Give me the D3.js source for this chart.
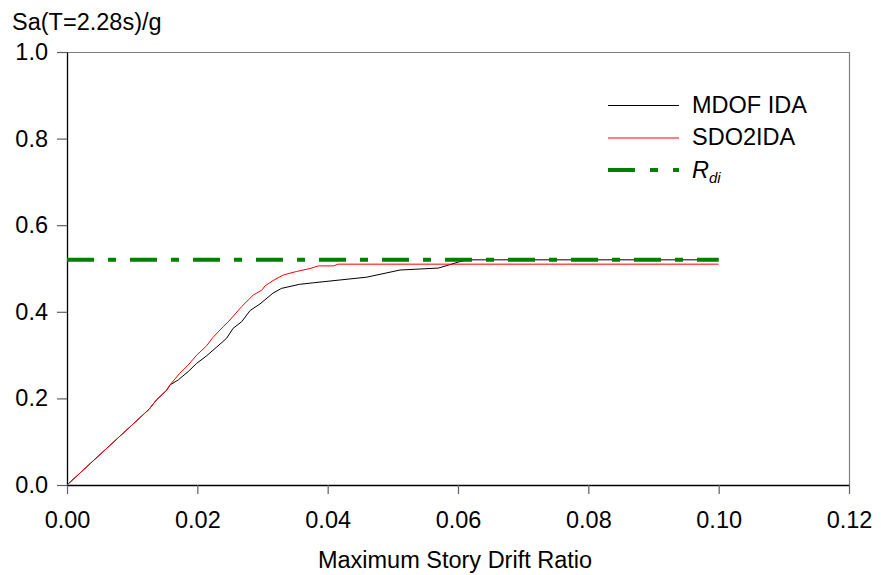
<!DOCTYPE html>
<html>
<head>
<meta charset="utf-8">
<script src="https://cdn.jsdelivr.net/npm/d3@7"></script>
<style>
  html, body { margin: 0; padding: 0; background: #fff; }
  svg text { font-family: "Liberation Sans", Arial, sans-serif; fill: #000; }
</style>
</head>
<body>
<svg id="chart" width="881" height="575"></svg>
<script>
// ---- data ----
const xTicks = [0, 0.02, 0.04, 0.06, 0.08, 0.10, 0.12];
const yTicks = [0, 0.2, 0.4, 0.6, 0.8, 1.0];

const mdofX = [0, 0.0126, 0.0137, 0.0153, 0.0158, 0.0171, 0.0186, 0.0199, 0.0214, 0.0230, 0.0245, 0.0255, 0.0268, 0.0281, 0.0296, 0.0316, 0.0329, 0.0357, 0.0378, 0.0460, 0.0511, 0.0570, 0.0601, 0.0614, 0.100];
const mdofY = [0, 0.175, 0.196, 0.219, 0.231, 0.243, 0.262, 0.281, 0.298, 0.319, 0.339, 0.362, 0.377, 0.403, 0.418, 0.443, 0.454, 0.4635, 0.467, 0.480, 0.4965, 0.501, 0.515, 0.520, 0.520];

const sdoX = [0, 0.0126, 0.0137, 0.0153, 0.0158, 0.0173, 0.0186, 0.0199, 0.0214, 0.0224, 0.0240, 0.0250, 0.0268, 0.0286, 0.0299, 0.0304, 0.0316, 0.0332, 0.0352, 0.0373, 0.0386, 0.0409, 0.0416, 0.100];
const sdoY = [0, 0.175, 0.196, 0.219, 0.231, 0.258, 0.277, 0.300, 0.321, 0.341, 0.366, 0.381, 0.412, 0.439, 0.450, 0.460, 0.472, 0.485, 0.493, 0.500, 0.506, 0.506, 0.510, 0.510];

const rdiX = [0, 0.10];
const rdiY = [0.52, 0.52];

const legendLabels = ["MDOF IDA", "SDO2IDA", "R"];

// ---- layout ----
const svg = d3.select("#chart");
const L = 67, R = 849, T = 52, B = 485;
const x = d3.scaleLinear().domain([0, 0.12]).range([L, R]);
const y = d3.scaleLinear().domain([0, 1.0]).range([B, T]);
const FS = "23.5px";

// frame top/right (grey)
svg.append("line").attr("x1", L).attr("x2", R).attr("y1", T + 0.5).attr("y2", T + 0.5)
  .attr("stroke", "#808080").attr("stroke-width", 1.2);
svg.append("line").attr("x1", R + 0.5).attr("x2", R + 0.5).attr("y1", T).attr("y2", B)
  .attr("stroke", "#808080").attr("stroke-width", 1.2);

// axes
const xAxis = d3.axisBottom(x).tickValues(xTicks).tickFormat(d3.format(".2f")).tickSizeInner(9).tickSizeOuter(0).tickPadding(17);
const yAxis = d3.axisLeft(y).tickValues(yTicks).tickFormat(d3.format(".1f")).tickSizeInner(10).tickSizeOuter(0).tickPadding(9);

const gx = svg.append("g").attr("transform", `translate(0,${B})`).call(xAxis);
const gy = svg.append("g").attr("transform", `translate(${L},0)`).call(yAxis);
[gx, gy].forEach(g => {
  g.select(".domain").attr("stroke", "#000").attr("stroke-width", 1.3);
  g.selectAll(".tick line").attr("stroke", "#606060").attr("stroke-width", 1.2);
  g.selectAll(".tick text").style("font-size", FS).attr("fill", "#000")
    .style("font-family", "'Liberation Sans', Arial, sans-serif");
});
gx.selectAll(".tick text").attr("dy", "0.71em");

// axis titles
svg.append("text").attr("x", 12).attr("y", 30).style("font-size", FS).text("Sa(T=2.28s)/g");
svg.append("text").attr("x", 455).attr("y", 568).attr("text-anchor", "middle").style("font-size", FS)
  .text("Maximum Story Drift Ratio");

// lines
const line = d3.line().x(d => x(d[0])).y(d => y(d[1]));
const zip = (a, b) => a.map((v, i) => [v, b[i]]);

svg.append("path").datum(zip(mdofX, mdofY)).attr("d", line)
  .attr("fill", "none").attr("stroke", "#000").attr("stroke-width", 1);
svg.append("path").datum(zip(sdoX, sdoY)).attr("d", line)
  .attr("fill", "none").attr("stroke", "#ff0000").attr("stroke-width", 1);
svg.append("path").datum(zip(rdiX, rdiY)).attr("d", line)
  .attr("fill", "none").attr("stroke", "#008000").attr("stroke-width", 4)
  .attr("stroke-dasharray", "27,14,8,14");

// legend
const lx1 = 608, lx2 = 679, tx = 692;
const leg = [
  { ly: 105.5, color: "#000", w: 1, dash: null },
  { ly: 138, color: "#ff0000", w: 1, dash: null },
  { ly: 170, color: "#008000", w: 4, dash: "27,15,8,15" }
];
leg.forEach((d, i) => {
  svg.append("line").attr("x1", lx1).attr("x2", lx2).attr("y1", d.ly).attr("y2", d.ly)
    .attr("stroke", d.color).attr("stroke-width", d.w).attr("stroke-dasharray", d.dash);
});
svg.append("text").attr("x", tx).attr("y", 113).style("font-size", FS).text(legendLabels[0]);
svg.append("text").attr("x", tx).attr("y", 145).style("font-size", FS).text(legendLabels[1]);
const rt = svg.append("text").attr("x", tx).attr("y", 178).style("font-size", FS).style("font-style", "italic");
rt.append("tspan").text(legendLabels[2]);
rt.append("tspan").attr("dy", 5).style("font-size", "15px").text("di");
</script>
</body>
</html>
